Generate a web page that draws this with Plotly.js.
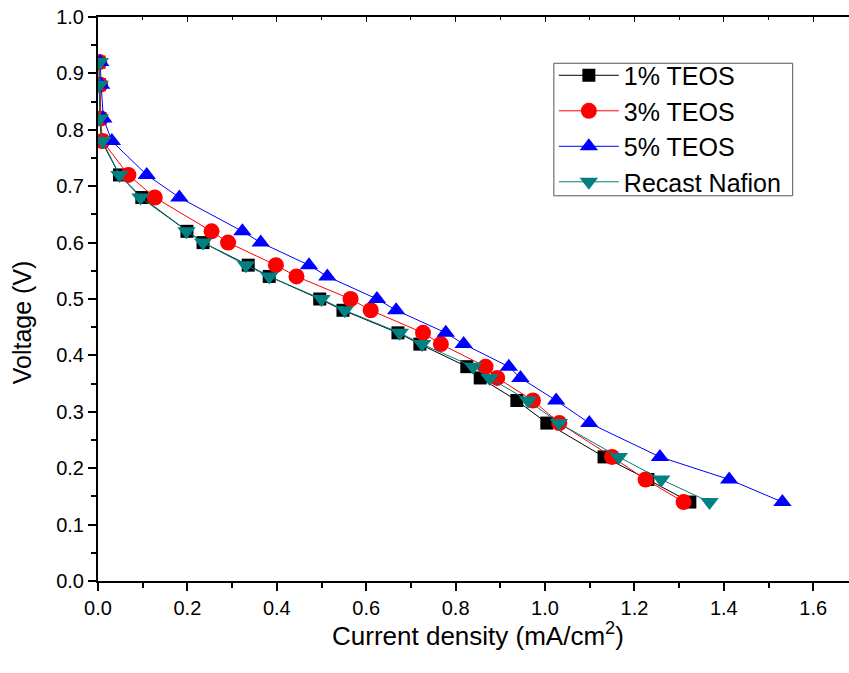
<!DOCTYPE html>
<html>
<head>
<meta charset="utf-8">
<script src="https://cdn.plot.ly/plotly-3.0.1.min.js"></script>
<style>html,body{margin:0;padding:0;background:#fff;}#chart{width:849px;height:673px;}</style>
</head>
<body>
<div id="chart"></div>
<script>
const voltage = [0.92, 0.88, 0.82, 0.78, 0.72, 0.68, 0.62, 0.60, 0.56, 0.54, 0.50, 0.48, 0.44, 0.42, 0.38, 0.36, 0.32, 0.28, 0.22, 0.18, 0.14];
const teos1 = [0.002, 0.003, 0.004, 0.008, 0.048, 0.098, 0.199, 0.235, 0.336, 0.383, 0.496, 0.548, 0.671, 0.720, 0.825, 0.855, 0.937, 1.004, 1.132, 1.230, 1.324];
const teos3 = [0.003, 0.005, 0.006, 0.010, 0.068, 0.127, 0.254, 0.291, 0.398, 0.444, 0.565, 0.610, 0.727, 0.767, 0.867, 0.893, 0.973, 1.032, 1.150, 1.225, 1.310];
const teos5 = [0.005, 0.007, 0.012, 0.031, 0.109, 0.182, 0.323, 0.364, 0.472, 0.513, 0.624, 0.667, 0.778, 0.818, 0.919, 0.945, 1.025, 1.099, 1.257, 1.412, 1.531];
const recast = [0.004, 0.004, 0.004, 0.010, 0.048, 0.095, 0.198, 0.235, 0.331, 0.383, 0.500, 0.552, 0.675, 0.725, 0.839, 0.876, 0.962, 1.031, 1.165, 1.260, 1.368];
const seriesNames = ['1% TEOS', '3% TEOS', '5% TEOS', 'Recast Nafion'];

function tr(x, name, color, symbol, size) {
  return {x: x, y: voltage, name: name, type: 'scatter', mode: 'lines+markers',
    line: {color: color, width: 1}, marker: {color: color, symbol: symbol, size: size}};
}
const data = [
  tr(teos1, seriesNames[0], '#000000', 'square', 13),
  tr(teos3, seriesNames[1], '#ff0000', 'circle', 16),
  tr(teos5, seriesNames[2], '#0000ff', 'triangle-up', 16),
  tr(recast, seriesNames[3], '#008080', 'triangle-down', 16),
  {x: [0], y: [0], xaxis: 'x2', type: 'scatter', mode: 'none', showlegend: false, hoverinfo: 'skip'}
];
const fam = 'Liberation Sans, Arial, sans-serif';
const tickFont = {family: fam, size: 20, color: '#000'};
const layout = {
  width: 849, height: 673,
  margin: {l: 98, r: 0, t: 17, b: 92},
  paper_bgcolor: '#fff', plot_bgcolor: '#fff',
  showlegend: true,
  legend: {x: 0.607, y: 0.937, xanchor: 'left', yanchor: 'top', bgcolor: 'rgba(0,0,0,0)',
    borderwidth: 0, itemwidth: 60, tracegroupgap: 0,
    font: {family: fam, size: 25, color: '#000'}},
  shapes: [{type: 'rect', xref: 'paper', yref: 'paper', x0: 0.607, x1: 0.925, y0: 0.683, y1: 0.918,
    line: {color: '#555', width: 1}, fillcolor: '#fff', layer: 'above'}],
  annotations: [
    {text: 'Voltage (V)', xref: 'paper', yref: 'paper', x: -0.101, y: 0.459, xanchor: 'center', yanchor: 'middle',
      showarrow: false, textangle: -90, font: {family: fam, size: 25, color: '#000'}},
    {text: 'Current density (mA/cm<sup>2</sup>)', xref: 'paper', yref: 'paper', x: 0.506, y: -0.094,
      xanchor: 'center', yanchor: 'middle', showarrow: false, font: {family: fam, size: 26, color: '#000'}}
  ],
  xaxis: {range: [0, 1.68], dtick: 0.2, tick0: 0, tickformat: '.1f', showgrid: false, zeroline: false,
    showline: true, linecolor: '#000', linewidth: 2, ticks: 'outside', ticklen: 8, tickwidth: 2, tickcolor: '#000',
    minor: {dtick: 0.1, ticks: 'outside', ticklen: 5, tickwidth: 2, tickcolor: '#000'},
    tickfont: tickFont},
  xaxis2: {overlaying: 'x', side: 'top', range: [0, 1.68], dtick: 0.2, tick0: 0, showgrid: false, zeroline: false,
    showline: true, linecolor: '#000', linewidth: 2, ticks: 'inside', ticklen: 5, tickwidth: 1, tickcolor: '#000',
    showticklabels: false,
    minor: {dtick: 0.1, ticks: 'inside', ticklen: 3, tickwidth: 1, tickcolor: '#000'}},
  yaxis: {range: [0, 1.0], dtick: 0.1, tick0: 0, tickformat: '.1f', showgrid: false, zeroline: false,
    showline: true, linecolor: '#000', linewidth: 2, ticks: 'outside', ticklen: 8, tickwidth: 2, tickcolor: '#000',
    minor: {dtick: 0.05, ticks: 'outside', ticklen: 5, tickwidth: 2, tickcolor: '#000'},
    tickfont: tickFont}
};
Plotly.newPlot('chart', data, layout, {displayModeBar: false, staticPlot: true});
</script>
</body>
</html>
